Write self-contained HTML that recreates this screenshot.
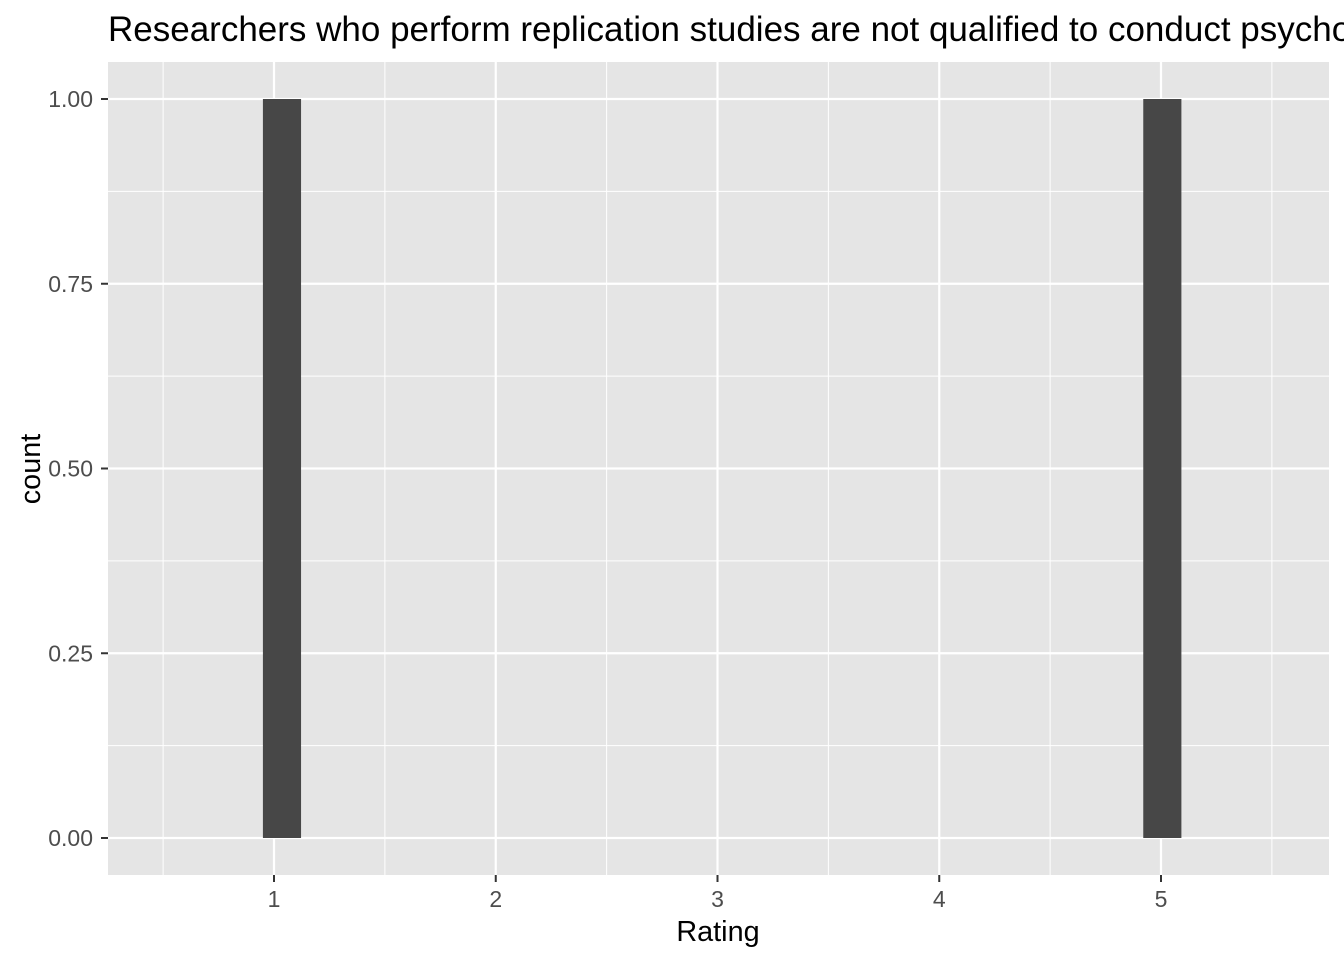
<!DOCTYPE html>
<html><head><meta charset="utf-8"><style>
body{margin:0;background:#fff;width:1344px;height:960px;overflow:hidden}
svg{display:block;font-family:"Liberation Sans",Arial,sans-serif}
</style></head><body>
<svg id="chart" width="1344" height="960">
<text x="108" y="41" font-size="35" fill="#000">Researchers who perform replication studies are not qualified to conduct psychological research</text>
<rect x="108" y="62" width="1221" height="813" fill="#e5e5e5"/>
<g id="grid"></g><g id="bars"></g><g id="axes"></g>
<text x="718" y="941" font-size="28.8" text-anchor="middle" fill="#000">Rating</text>
<text transform="translate(40,469) rotate(-90)" font-size="28.8" text-anchor="middle" fill="#000">count</text>
</svg>
<script>
const binStarts=[0.95,4.92];
const binEnds=[1.122,5.092];
const counts=[1,1];
const xTicks=[1,2,3,4,5];
const yTicks=[0,0.25,0.5,0.75,1];
const yTickLabels=["0.00","0.25","0.50","0.75","1.00"];
const NS="http://www.w3.org/2000/svg";
const X=v=>274+(v-1)*221.75, Y=v=>838-v*739;
const L=108,R=1329,T=62,B=875;
function mk(t,a,p){const e=document.createElementNS(NS,t);for(const k in a)e.setAttribute(k,a[k]);p.appendChild(e);return e;}
const g=document.getElementById('grid'),bg=document.getElementById('bars'),ax=document.getElementById('axes');
for(let i=0;i<=xTicks.length;i++){const v=xTicks[0]-0.5+i;const l=mk('line',{x1:X(v),x2:X(v),y1:T,y2:B,stroke:'#fff','stroke-width':1},g);

}
for(let i=0;i<yTicks.length-1;i++){const v=(yTicks[i]+yTicks[i+1])/2;const l=mk('line',{x1:L,x2:R,y1:Y(v),y2:Y(v),stroke:'#fff','stroke-width':1},g);

}
xTicks.forEach(v=>{const l=mk('line',{x1:X(v),x2:X(v),y1:T,y2:B,stroke:'#fff','stroke-width':2.2},g);


const t=mk('line',{x1:X(v),x2:X(v),y1:B,y2:B+7,stroke:'#333','stroke-width':2},ax);


const tx=mk('text',{x:X(v),y:B+32,'font-size':23,'text-anchor':'middle',fill:'#4d4d4d'},ax);tx.textContent=v;

});
yTicks.forEach((v,i)=>{const l=mk('line',{x1:L,x2:R,y1:Y(v),y2:Y(v),stroke:'#fff','stroke-width':2.2},g);


const t=mk('line',{x1:L-7,x2:L,y1:Y(v),y2:Y(v),stroke:'#333','stroke-width':2},ax);


const tx=mk('text',{x:L-15,y:Y(v)+8,'font-size':23,'text-anchor':'end',fill:'#4d4d4d'},ax);tx.textContent=yTickLabels[i];

});
counts.forEach((c,i)=>{const r=mk('rect',{x:X(binStarts[i]),width:X(binEnds[i])-X(binStarts[i]),y:Y(c),height:Y(0)-Y(c),fill:'#474747'},bg);

});
</script>
</body></html>
